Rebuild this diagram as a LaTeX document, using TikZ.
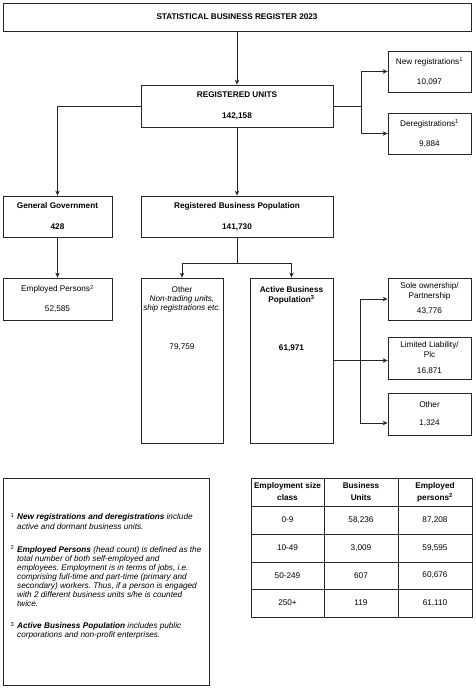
\documentclass[tikz,border=0pt]{standalone}
\usepackage{fontspec}
\setmainfont{Liberation Sans}
\usetikzlibrary{arrows.meta,calc}
\frenchspacing
\begin{document}
\begin{tikzpicture}[x=1pt,y=-1pt,
  every node/.style={font=\fontsize{8.2}{10}\selectfont, inner sep=0pt, text=black},
  box/.style={draw=black!85, line width=0.8pt, fill=white, align=center},
  conn/.style={draw=black!85, line width=0.8pt},
  arr/.style={conn, -{Stealth[length=5pt,width=4.5pt]}},
  cell/.style={align=center}]
\useasboundingbox (0,0) rectangle (475,688);

% boxes
\node[box, minimum width=468pt, minimum height=28pt] (top) at (237,17) {\textbf{STATISTICAL BUSINESS REGISTER 2023}};
\node[box, minimum width=192pt, minimum height=42pt] (ru) at (237,106) {\textbf{REGISTERED UNITS}\\[11pt]\textbf{142,158}};
\node[box, minimum width=83pt, minimum height=41pt] (nr) at (429.5,71.5) {New registrations\textsuperscript{1}\\[10pt]10,097};
\node[box, minimum width=83pt, minimum height=41pt] (dr) at (429.5,133.5) {Deregistrations\textsuperscript{1}\\[10pt]9,884};
\node[box, minimum width=109pt, minimum height=41pt] (gg) at (57.5,216.5) {\textbf{General Government}\\[11pt]\textbf{428}};
\node[box, minimum width=192pt, minimum height=41pt] (rbp) at (237,216.5) {\textbf{Registered Business Population}\\[11pt]\textbf{141,730}};
\node[box, minimum width=109pt, minimum height=42pt] (ep) at (57.5,299) {Employed Persons\textsuperscript{2}\\[10pt]52,585};
\node[box, minimum width=82pt, minimum height=165pt] (oth) at (182,360.5) {};
\node[box, minimum width=83pt, minimum height=165pt] (abp) at (291.5,360.5) {};
\node[box, minimum width=83pt, minimum height=42pt] (sole) at (429.5,299) {Sole ownership/\\Partnership\\[5pt]43,776};
\node[box, minimum width=83pt, minimum height=42pt] (ll) at (429.5,358) {Limited Liability/\\Plc\\[6pt]16,871};
\node[box, minimum width=83pt, minimum height=42pt] (oth2) at (429.5,414) {Other\\[8pt]1,324};

% texts in tall boxes
\node[align=center, font=\fontsize{8.2}{9.3}\selectfont, anchor=north] (othT) at (182,286) {Other\\\textit{Non-trading units,}\\\textit{ship registrations etc.}};
\node (othN) at (182,347) {79,759};
\node[align=center, anchor=north] (abpT) at (291.5,286) {\textbf{Active Business}\\\textbf{Population\textsuperscript{3}}};
\node (abpN) at (291.5,348) {\textbf{61,971}};

% connectors
\coordinate (j1) at (361,106);
\coordinate (j2) at (237,263);
\coordinate (j3) at (360,360.5);
\draw[arr] (top) -- (ru);
\draw[conn] (ru.east) -- (j1);
\draw[arr] (j1) |- (nr.west);
\draw[arr] (j1) |- (dr.west);
\draw[arr] (ru.west) -| (gg.north);
\draw[arr] (ru) -- (rbp);
\draw[arr] (gg) -- (ep);
\draw[conn] (rbp.south) -- (j2);
\draw[arr] (j2) -| (oth.north);
\draw[arr] (j2) -| (abp.north);
\draw[arr] (abp.east) -- (abp.east -| ll.west);
\draw[arr] (j3) |- (sole.west);
\draw[arr] (j3) |- ($(oth2.west)+(0,9)$);

% notes
\node[box, minimum width=206pt, minimum height=207pt] (notesbox) at (106,581.5) {};
\node[anchor=north west, align=left, font=\itshape\fontsize{8.2}{9.1}\selectfont] (notes) at (17,513) {%
\llap{\textsuperscript{\upshape 1}\hspace{3pt}}\textbf{New registrations and deregistrations} include\\
active and dormant business units.\\[14pt]
\llap{\textsuperscript{\upshape 2}\hspace{3pt}}\textbf{Employed Persons} (head count) is defined as the\\
total number of both self-employed and\\
employees. Employment is in terms of jobs, i.e.\\
comprising full-time and part-time (primary and\\
secondary) workers. Thus, if a person is engaged\\
with 2 different business units s/he is counted\\
twice.\\[13pt]
\llap{\textsuperscript{\upshape 3}\hspace{3pt}}\textbf{Active Business Population} includes public\\
corporations and non-profit enterprises.};

% table
\draw[conn] (251,478) rectangle (472,617);
\foreach \x in {324,398} \draw[conn] (\x,478) -- (\x,617);
\foreach \y in {506,534,562,589} \draw[conn] (251,\y) -- (472,\y);
\node[cell] (h1) at (287.5,492) {\textbf{Employment size}\\[2pt]\textbf{class}};
\node[cell] (h2) at (361,492) {\textbf{Business}\\[2pt]\textbf{Units}};
\node[cell] (h3) at (435,492) {\textbf{Employed}\\[2pt]\textbf{persons\textsuperscript{2}}};
\node (a1) at (287.5,520) {0-9};
\node (b1) at (361,520) {58,236};
\node (c1) at (435,520) {87,208};
\node (a2) at (287.5,548) {10-49};
\node (b2) at (361,548) {3,009};
\node (c2) at (435,548) {59,595};
\node (a3) at (287.5,575.5) {50-249};
\node (b3) at (361,575.5) {607};
\node (c3) at (435,575.5) {60,676};
\node (a4) at (287.5,603) {250+};
\node (b4) at (361,603) {119};
\node (c4) at (435,603) {61,110};
\end{tikzpicture}
\end{document}
